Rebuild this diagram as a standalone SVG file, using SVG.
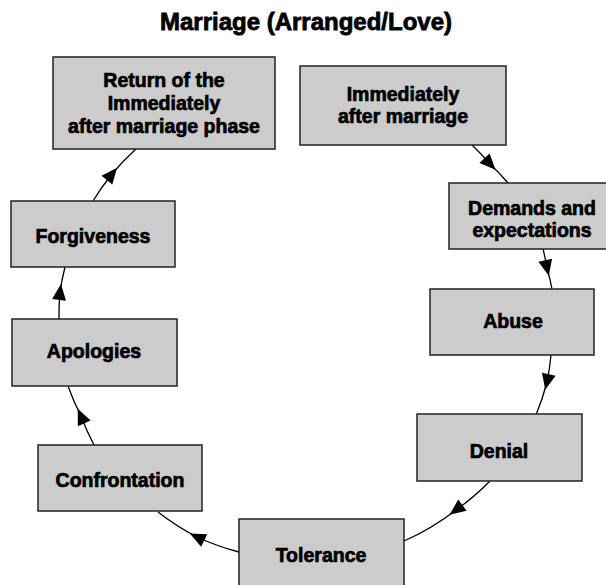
<svg xmlns="http://www.w3.org/2000/svg" width="606" height="585" viewBox="0 0 606 585">
<style>
.box{fill:#cccccc;stroke:#222;stroke-width:1.5}
.t{font-family:"Liberation Sans",Arial,sans-serif;font-weight:bold;font-size:19.5px;fill:#000;stroke:#000;stroke-width:0.7;text-anchor:middle}
.title{font-size:24px;stroke-width:0.8}
.c{fill:none;stroke:#000;stroke-width:1.3;marker-mid:url(#ah)}
</style>
<defs>
<marker id="ah" markerUnits="userSpaceOnUse" markerWidth="20" markerHeight="20" viewBox="-10 -10 20 20" refX="0" refY="0" orient="auto" overflow="visible">
<path d="M-8,-7 L8,0 L-8,7 z" fill="#000"/>
</marker>
</defs>
<rect width="606" height="585" fill="#fff"/>
<text class="t title" x="306" y="30">Marriage (Arranged/Love)</text>
<g id="connectors">
<path class="c" d="M472,145 A245,245 0 0 1 490,164 A245,245 0 0 1 508,183"/>
<path class="c" d="M543,249 A245,245 0 0 1 547,268 A245,245 0 0 1 552,289"/>
<path class="c" d="M551,355 A245,245 0 0 1 547,382 A245,245 0 0 1 536,415"/>
<path class="c" d="M490,481 A245,245 0 0 1 456,510 A245,245 0 0 1 404,541"/>
<path class="c" d="M239,552 A245,245 0 0 1 197,537 A245,245 0 0 1 158,512"/>
<path class="c" d="M94,445 A245,245 0 0 1 81,416 A245,245 0 0 1 68,386"/>
<path class="c" d="M59,319 A245,245 0 0 1 60,292 A245,245 0 0 1 65,267"/>
<path class="c" d="M93,201 A245,245 0 0 1 112,174 A245,245 0 0 1 136,149"/>
</g>
<g id="n1"><rect class="box" x="53" y="57" width="222" height="92"/>
<text class="t" x="164" y="87">Return of the</text><text class="t" x="164" y="110">Immediately</text><text class="t" x="164" y="133">after marriage phase</text></g>
<g id="n2"><rect class="box" x="300" y="66" width="206" height="79"/>
<text class="t" x="403" y="101">Immediately</text><text class="t" x="403" y="123">after marriage</text></g>
<g id="n3"><rect class="box" x="449" y="183" width="166" height="66"/>
<text class="t" x="532" y="215">Demands and</text><text class="t" x="532" y="237">expectations</text></g>
<g id="n4"><rect class="box" x="430" y="289" width="164" height="66"/>
<text class="t" x="513" y="328">Abuse</text></g>
<g id="n5"><rect class="box" x="417" y="414" width="165" height="67"/>
<text class="t" x="499" y="458">Denial</text></g>
<g id="n6"><rect class="box" x="239" y="519" width="165" height="75"/>
<text class="t" x="321" y="562">Tolerance</text></g>
<g id="n7"><rect class="box" x="38" y="445" width="164" height="66"/>
<text class="t" x="120" y="487">Confrontation</text></g>
<g id="n8"><rect class="box" x="12" y="319" width="165" height="67"/>
<text class="t" x="94" y="358">Apologies</text></g>
<g id="n9"><rect class="box" x="11" y="201" width="164" height="66"/>
<text class="t" x="93" y="243">Forgiveness</text></g>
</svg>
